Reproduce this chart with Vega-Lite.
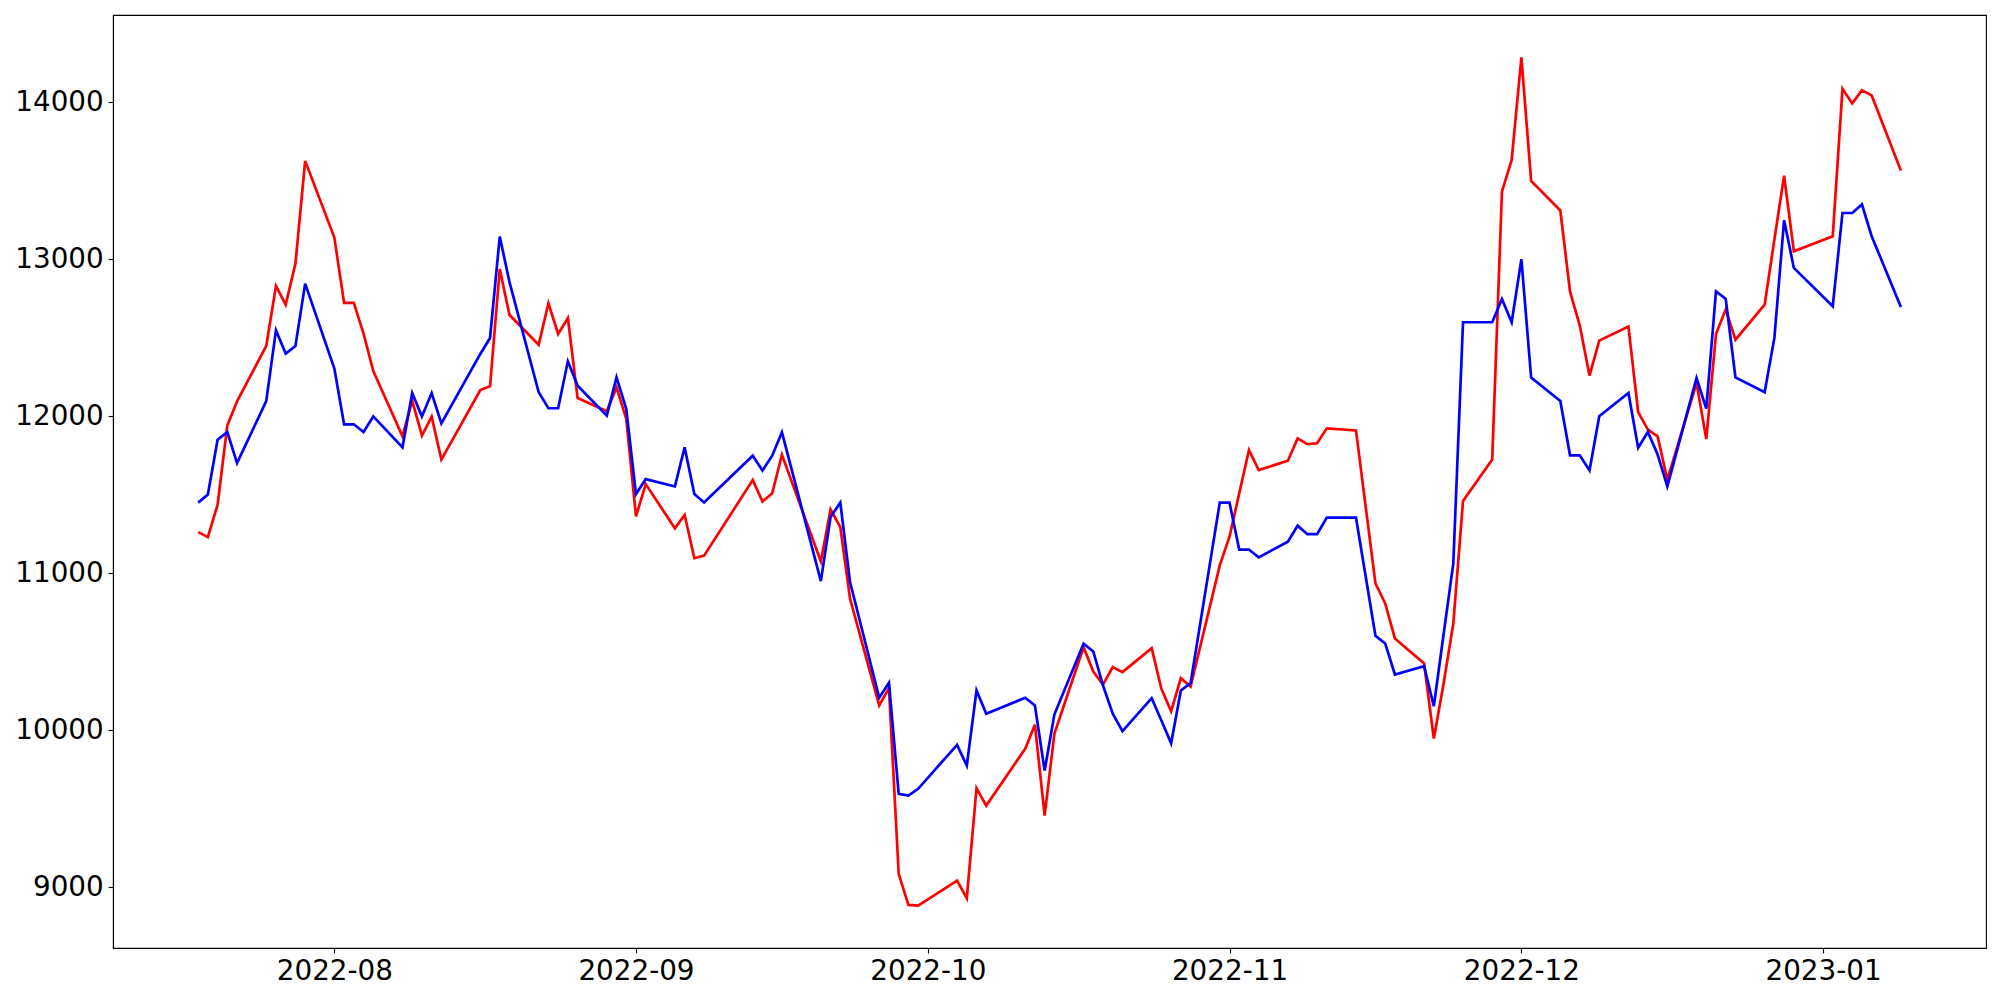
{
  "$schema": "https://vega.github.io/schema/vega-lite/v6.json",
  "autosize": {"type": "none"},
  "width": 1873,
  "height": 933,
  "padding": {"left": 113, "top": 15, "right": 14, "bottom": 52},
  "background": "white",
  "data": {"values": [
    {"date": "2022-07-18", "s1": 11263, "s2": 11451},
    {"date": "2022-07-19", "s1": 11231, "s2": 11502},
    {"date": "2022-07-20", "s1": 11438, "s2": 11852},
    {"date": "2022-07-21", "s1": 11943, "s2": 11901},
    {"date": "2022-07-22", "s1": 12096, "s2": 11703},
    {"date": "2022-07-25", "s1": 12449, "s2": 12098},
    {"date": "2022-07-26", "s1": 12831, "s2": 12549},
    {"date": "2022-07-27", "s1": 12712, "s2": 12400},
    {"date": "2022-07-28", "s1": 12974, "s2": 12449},
    {"date": "2022-07-29", "s1": 13628, "s2": 12846},
    {"date": "2022-08-01", "s1": 13140, "s2": 12305},
    {"date": "2022-08-02", "s1": 12723, "s2": 11950},
    {"date": "2022-08-03", "s1": 12723, "s2": 11950},
    {"date": "2022-08-04", "s1": 12528, "s2": 11901},
    {"date": "2022-08-05", "s1": 12289, "s2": 12000},
    {"date": "2022-08-08", "s1": 11873, "s2": 11803},
    {"date": "2022-08-09", "s1": 12101, "s2": 12149},
    {"date": "2022-08-10", "s1": 11878, "s2": 12000},
    {"date": "2022-08-11", "s1": 11999, "s2": 12149},
    {"date": "2022-08-12", "s1": 11725, "s2": 11956},
    {"date": "2022-08-16", "s1": 12168, "s2": 12398},
    {"date": "2022-08-17", "s1": 12192, "s2": 12500},
    {"date": "2022-08-18", "s1": 12939, "s2": 13146},
    {"date": "2022-08-19", "s1": 12646, "s2": 12855},
    {"date": "2022-08-22", "s1": 12457, "s2": 12154},
    {"date": "2022-08-23", "s1": 12721, "s2": 12052},
    {"date": "2022-08-24", "s1": 12525, "s2": 12052},
    {"date": "2022-08-25", "s1": 12627, "s2": 12351},
    {"date": "2022-08-26", "s1": 12117, "s2": 12196},
    {"date": "2022-08-29", "s1": 12033, "s2": 12005},
    {"date": "2022-08-30", "s1": 12185, "s2": 12249},
    {"date": "2022-08-31", "s1": 11984, "s2": 12047},
    {"date": "2022-09-01", "s1": 11363, "s2": 11505},
    {"date": "2022-09-02", "s1": 11569, "s2": 11601},
    {"date": "2022-09-05", "s1": 11287, "s2": 11554},
    {"date": "2022-09-06", "s1": 11372, "s2": 11803},
    {"date": "2022-09-07", "s1": 11097, "s2": 11505},
    {"date": "2022-09-08", "s1": 11113, "s2": 11452},
    {"date": "2022-09-13", "s1": 11595, "s2": 11750},
    {"date": "2022-09-14", "s1": 11457, "s2": 11655},
    {"date": "2022-09-15", "s1": 11510, "s2": 11750},
    {"date": "2022-09-16", "s1": 11756, "s2": 11899},
    {"date": "2022-09-20", "s1": 11076, "s2": 10951},
    {"date": "2022-09-21", "s1": 11408, "s2": 11359},
    {"date": "2022-09-22", "s1": 11295, "s2": 11451},
    {"date": "2022-09-23", "s1": 10839, "s2": 10945},
    {"date": "2022-09-26", "s1": 10159, "s2": 10208},
    {"date": "2022-09-27", "s1": 10269, "s2": 10303},
    {"date": "2022-09-28", "s1": 9086, "s2": 9596},
    {"date": "2022-09-29", "s1": 8888, "s2": 9585},
    {"date": "2022-09-30", "s1": 8884, "s2": 9628},
    {"date": "2022-10-04", "s1": 9043, "s2": 9908},
    {"date": "2022-10-05", "s1": 8931, "s2": 9776},
    {"date": "2022-10-06", "s1": 9632, "s2": 10254},
    {"date": "2022-10-07", "s1": 9521, "s2": 10106},
    {"date": "2022-10-11", "s1": 9883, "s2": 10208},
    {"date": "2022-10-12", "s1": 10036, "s2": 10159},
    {"date": "2022-10-13", "s1": 9458, "s2": 9744},
    {"date": "2022-10-14", "s1": 9978, "s2": 10101},
    {"date": "2022-10-17", "s1": 10530, "s2": 10552},
    {"date": "2022-10-18", "s1": 10375, "s2": 10503},
    {"date": "2022-10-19", "s1": 10292, "s2": 10286},
    {"date": "2022-10-20", "s1": 10403, "s2": 10106},
    {"date": "2022-10-21", "s1": 10371, "s2": 9995},
    {"date": "2022-10-24", "s1": 10524, "s2": 10205},
    {"date": "2022-10-25", "s1": 10265, "s2": 10063},
    {"date": "2022-10-26", "s1": 10122, "s2": 9918},
    {"date": "2022-10-27", "s1": 10333, "s2": 10254},
    {"date": "2022-10-28", "s1": 10280, "s2": 10301},
    {"date": "2022-10-31", "s1": 11051, "s2": 11451},
    {"date": "2022-11-01", "s1": 11234, "s2": 11451},
    {"date": "2022-11-02", "s1": 11510, "s2": 11152},
    {"date": "2022-11-03", "s1": 11786, "s2": 11152},
    {"date": "2022-11-04", "s1": 11658, "s2": 11102},
    {"date": "2022-11-07", "s1": 11718, "s2": 11202},
    {"date": "2022-11-08", "s1": 11860, "s2": 11304},
    {"date": "2022-11-09", "s1": 11824, "s2": 11250},
    {"date": "2022-11-10", "s1": 11829, "s2": 11250},
    {"date": "2022-11-11", "s1": 11924, "s2": 11355},
    {"date": "2022-11-14", "s1": 11911, "s2": 11355},
    {"date": "2022-11-16", "s1": 10936, "s2": 10603},
    {"date": "2022-11-17", "s1": 10809, "s2": 10554},
    {"date": "2022-11-18", "s1": 10586, "s2": 10356},
    {"date": "2022-11-21", "s1": 10426, "s2": 10409},
    {"date": "2022-11-22", "s1": 9948, "s2": 10154},
    {"date": "2022-11-23", "s1": 10297, "s2": 10611},
    {"date": "2022-11-24", "s1": 10679, "s2": 11062},
    {"date": "2022-11-25", "s1": 11461, "s2": 12600},
    {"date": "2022-11-28", "s1": 11725, "s2": 12600},
    {"date": "2022-11-29", "s1": 13432, "s2": 12748},
    {"date": "2022-11-30", "s1": 13634, "s2": 12600},
    {"date": "2022-12-01", "s1": 14287, "s2": 13001},
    {"date": "2022-12-02", "s1": 13500, "s2": 12247},
    {"date": "2022-12-05", "s1": 13312, "s2": 12098},
    {"date": "2022-12-06", "s1": 12795, "s2": 11752},
    {"date": "2022-12-07", "s1": 12579, "s2": 11752},
    {"date": "2022-12-08", "s1": 12260, "s2": 11656},
    {"date": "2022-12-09", "s1": 12483, "s2": 12001},
    {"date": "2022-12-12", "s1": 12572, "s2": 12149},
    {"date": "2022-12-13", "s1": 12028, "s2": 11801},
    {"date": "2022-12-14", "s1": 11916, "s2": 11901},
    {"date": "2022-12-15", "s1": 11873, "s2": 11757},
    {"date": "2022-12-16", "s1": 11597, "s2": 11555},
    {"date": "2022-12-19", "s1": 12213, "s2": 12245},
    {"date": "2022-12-20", "s1": 11856, "s2": 12050},
    {"date": "2022-12-21", "s1": 12525, "s2": 12797},
    {"date": "2022-12-22", "s1": 12681, "s2": 12748},
    {"date": "2022-12-23", "s1": 12489, "s2": 12249},
    {"date": "2022-12-26", "s1": 12712, "s2": 12154},
    {"date": "2022-12-27", "s1": 13126, "s2": 12500},
    {"date": "2022-12-28", "s1": 13534, "s2": 13250},
    {"date": "2022-12-29", "s1": 13052, "s2": 12946},
    {"date": "2023-01-02", "s1": 13148, "s2": 12702},
    {"date": "2023-01-03", "s1": 14087, "s2": 13296},
    {"date": "2023-01-04", "s1": 13994, "s2": 13296},
    {"date": "2023-01-05", "s1": 14078, "s2": 13350},
    {"date": "2023-01-06", "s1": 14045, "s2": 13148},
    {"date": "2023-01-09", "s1": 13567, "s2": 12697}
  ]},
  "encoding": {
    "x": {
      "field": "date",
      "type": "temporal",
      "scale": {
        "type": "utc",
        "domain": [
          {"year": 2022, "month": 7, "date": 9, "hours": 6, "utc": true},
          {"year": 2023, "month": 1, "date": 17, "hours": 18, "utc": true}
        ]
      },
      "axis": {
        "title": null,
        "values": [
          {"year": 2022, "month": 8, "date": 1, "utc": true},
          {"year": 2022, "month": 9, "date": 1, "utc": true},
          {"year": 2022, "month": 10, "date": 1, "utc": true},
          {"year": 2022, "month": 11, "date": 1, "utc": true},
          {"year": 2022, "month": 12, "date": 1, "utc": true},
          {"year": 2023, "month": 1, "date": 1, "utc": true}
        ],
        "labelExpr": "utcFormat(datum.value, '%Y-%m')"
      }
    }
  },
  "layer": [
    {
      "mark": {"type": "line", "color": "#ff0000", "strokeWidth": 2.7, "clip": true},
      "encoding": {
        "y": {
          "field": "s1",
          "type": "quantitative",
          "scale": {"domain": [8613.85, 14557.15], "nice": false, "zero": false},
          "axis": {"title": null, "values": [9000, 10000, 11000, 12000, 13000, 14000], "format": "d"}
        }
      }
    },
    {
      "mark": {"type": "line", "color": "#0000ff", "strokeWidth": 2.7, "clip": true},
      "encoding": {
        "y": {"field": "s2", "type": "quantitative"}
      }
    }
  ],
  "config": {
    "view": {"stroke": "black", "strokeWidth": 1.1},
    "axis": {
      "grid": false,
      "domain": true,
      "domainColor": "black",
      "domainWidth": 1.1,
      "ticks": true,
      "tickColor": "black",
      "tickWidth": 1.1,
      "tickSize": 4.9,
      "labelPadding": 4.9,
      "labelFont": "DejaVu Sans",
      "labelFontSize": 27.8,
      "labelColor": "black",
      "labelOverlap": false,
      "labelFlush": false
    }
  }
}
